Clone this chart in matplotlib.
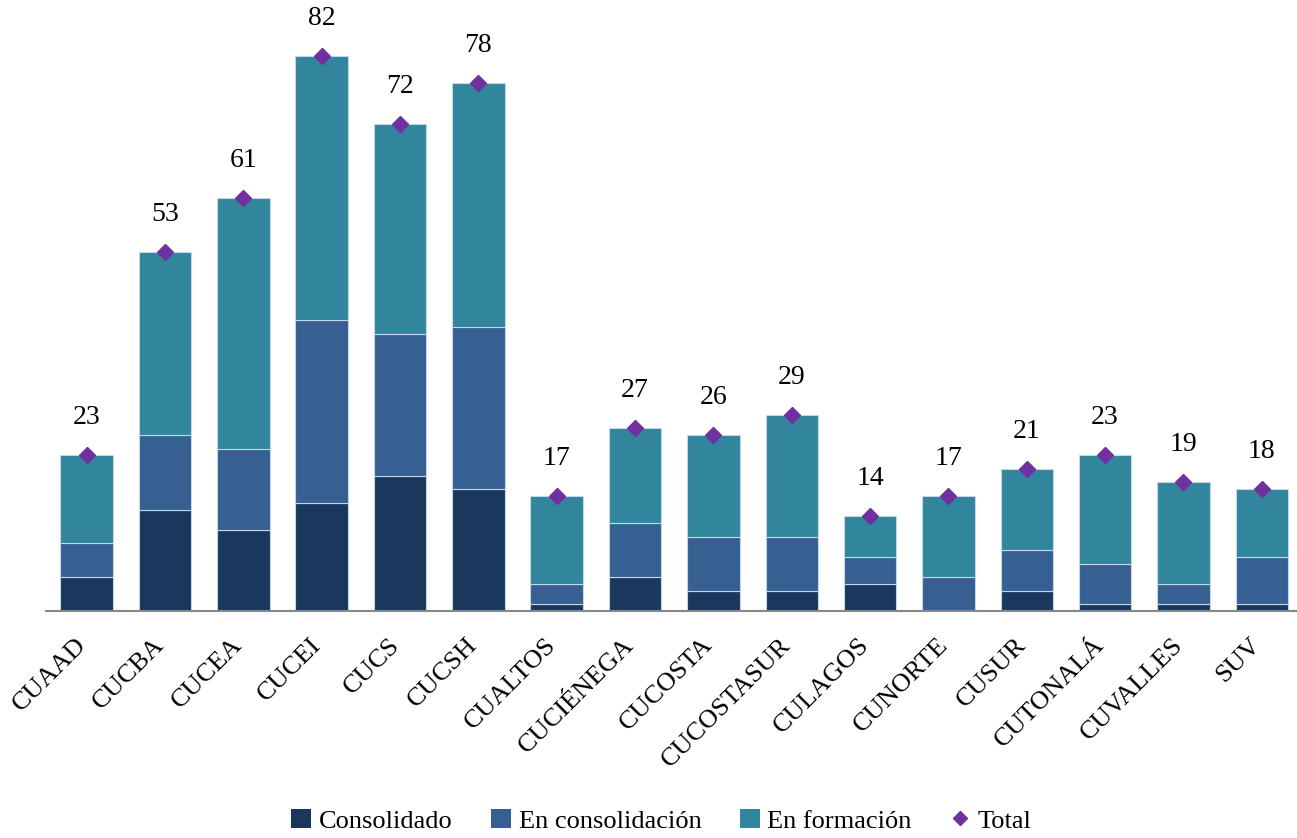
import numpy as np
import matplotlib.pyplot as plt
from matplotlib.lines import Line2D
from matplotlib.patches import Patch
import matplotlib.transforms as mtransforms

plt.rcParams['font.family'] = ['Liberation Serif', 'DejaVu Serif']

centros = ['CUAAD', 'CUCBA', 'CUCEA', 'CUCEI', 'CUCS', 'CUCSH', 'CUALTOS',
           'CUCIÉNEGA', 'CUCOSTA', 'CUCOSTASUR', 'CULAGOS', 'CUNORTE',
           'CUSUR', 'CUTONALÁ', 'CUVALLES', 'SUV']
consolidado = [5, 15, 12, 16, 20, 18, 1, 5, 3, 3, 4, 0, 3, 1, 1, 1]
en_consolidacion = [5, 11, 12, 27, 21, 24, 3, 8, 8, 8, 4, 5, 6, 6, 3, 7]
en_formacion = [13, 27, 37, 39, 31, 36, 13, 14, 15, 18, 6, 12, 12, 16, 15, 10]
total = [23, 53, 61, 82, 72, 78, 17, 27, 26, 29, 14, 17, 21, 23, 19, 18]

c_cons = '#1a375e'
c_encons = '#366092'
c_form = '#31859c'
c_total = '#7030a0'

fig = plt.figure(figsize=(12.97, 8.38), dpi=100)
ax = fig.add_axes([46 / 1297, 227 / 838, 1251 / 1297, 611 / 838])

x = np.arange(len(centros))
ancho = 0.67
borde = dict(edgecolor='#c5d6e6', linewidth=0.8)
ax.bar(x, consolidado, ancho, color=c_cons, **borde)
ax.bar(x, en_consolidacion, ancho, bottom=consolidado, color=c_encons, **borde)
base2 = np.array(consolidado) + np.array(en_consolidacion)
ax.bar(x, en_formacion, ancho, bottom=base2, color=c_form, **borde)
ax.plot(x, total, linestyle='none', marker='D', markersize=8, color=c_total)

for xi, t in zip(x, total):
    ax.annotate(str(t), (xi, t), xytext=(0, 27), textcoords='offset points',
                ha='center', va='center', fontsize=20)

ax.set_xlim(-0.52, 15.45)
ax.set_ylim(0, 90.3)
ax.set_yticks([])
for s in ['top', 'right', 'left']:
    ax.spines[s].set_visible(False)
ax.spines['bottom'].set_color('#888888')
ax.spines['bottom'].set_linewidth(1.5)

ax.set_xticks(x)
ax.set_xticklabels(centros, rotation=45, ha='right', va='center',
                   rotation_mode='anchor', fontsize=19)
ax.tick_params(axis='x', length=0, pad=22)
desplaza = mtransforms.ScaledTranslation(-3 / 72, 0, fig.dpi_scale_trans)
for lab in ax.get_xticklabels():
    lab.set_transform(lab.get_transform() + desplaza)

handles = [
    Patch(facecolor=c_cons, label='Consolidado'),
    Patch(facecolor=c_encons, label='En consolidación'),
    Patch(facecolor=c_form, label='En formación'),
    Line2D([], [], linestyle='none', marker='D', markersize=7, color=c_total, label='Total'),
]
fig.legend(handles=handles, loc='lower center', bbox_to_anchor=(0.51, -0.022),
           ncol=4, frameon=False, fontsize=19, handlelength=0.75,
           handleheight=0.75, handletextpad=0.3, columnspacing=1.45)

fig.savefig('out.png', dpi=100)
